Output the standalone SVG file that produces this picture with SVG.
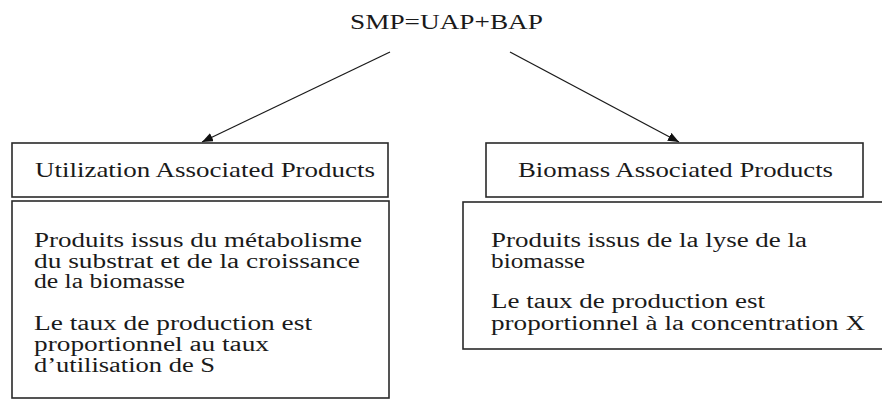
<svg xmlns="http://www.w3.org/2000/svg" width="882" height="399" viewBox="0 0 882 399">
<style>
.box{fill:#fff;stroke:#2a2a2a;stroke-width:1.6}
.t{font-family:'Liberation Serif','Times New Roman','DejaVu Serif',serif;font-size:20px;fill:#1a1a1a}
.h{font-size:21px}
.edge{stroke:#1a1a1a;stroke-width:1.3;fill:none}
</style>
<defs>
<marker id="ah" markerUnits="userSpaceOnUse" markerWidth="12" markerHeight="10" refX="11" refY="4.5" orient="auto">
<path d="M0,0 L11,4.5 L0,9 z" fill="#111"/>
</marker>
</defs>
<rect width="882" height="399" fill="#fff"/>
<g id="root">
<text class="t h" x="350" y="29" textLength="193" lengthAdjust="spacingAndGlyphs">SMP=UAP+BAP</text>
</g>
<g id="connectors">
<line class="edge" x1="390" y1="52" x2="202" y2="142" marker-end="url(#ah)"/>
<line class="edge" x1="510" y1="52" x2="679" y2="142" marker-end="url(#ah)"/>
</g>
<g id="uap-title">
<rect class="box" x="12" y="143" width="376" height="54"/>
<text class="t h" x="35" y="177" textLength="340" lengthAdjust="spacingAndGlyphs">Utilization Associated Products</text>
</g>
<g id="uap-desc">
<rect class="box" x="12" y="201" width="377" height="197"/>
<text class="t" x="34" y="247" textLength="328" lengthAdjust="spacingAndGlyphs">Produits issus du métabolisme</text>
<text class="t" x="34" y="268" textLength="326" lengthAdjust="spacingAndGlyphs">du substrat et de la croissance</text>
<text class="t" x="34" y="288" textLength="151" lengthAdjust="spacingAndGlyphs">de la biomasse</text>
<text class="t" x="34" y="330" textLength="278" lengthAdjust="spacingAndGlyphs">Le taux de production est</text>
<text class="t" x="34" y="351" textLength="235" lengthAdjust="spacingAndGlyphs">proportionnel au taux</text>
<text class="t" x="34" y="372" textLength="181" lengthAdjust="spacingAndGlyphs">d’utilisation de S</text>
</g>
<g id="bap-title">
<rect class="box" x="486" y="143" width="377" height="54"/>
<text class="t h" x="518" y="177" textLength="315" lengthAdjust="spacingAndGlyphs">Biomass Associated Products</text>
</g>
<g id="bap-desc">
<rect class="box" x="463" y="202" width="430" height="147"/>
<text class="t" x="491" y="247" textLength="316" lengthAdjust="spacingAndGlyphs">Produits issus de la lyse de la</text>
<text class="t" x="491" y="268" textLength="94" lengthAdjust="spacingAndGlyphs">biomasse</text>
<text class="t" x="491" y="308" textLength="274" lengthAdjust="spacingAndGlyphs">Le taux de production est</text>
<text class="t" x="491" y="330" textLength="374" lengthAdjust="spacingAndGlyphs">proportionnel à la concentration X</text>
</g>
</svg>
